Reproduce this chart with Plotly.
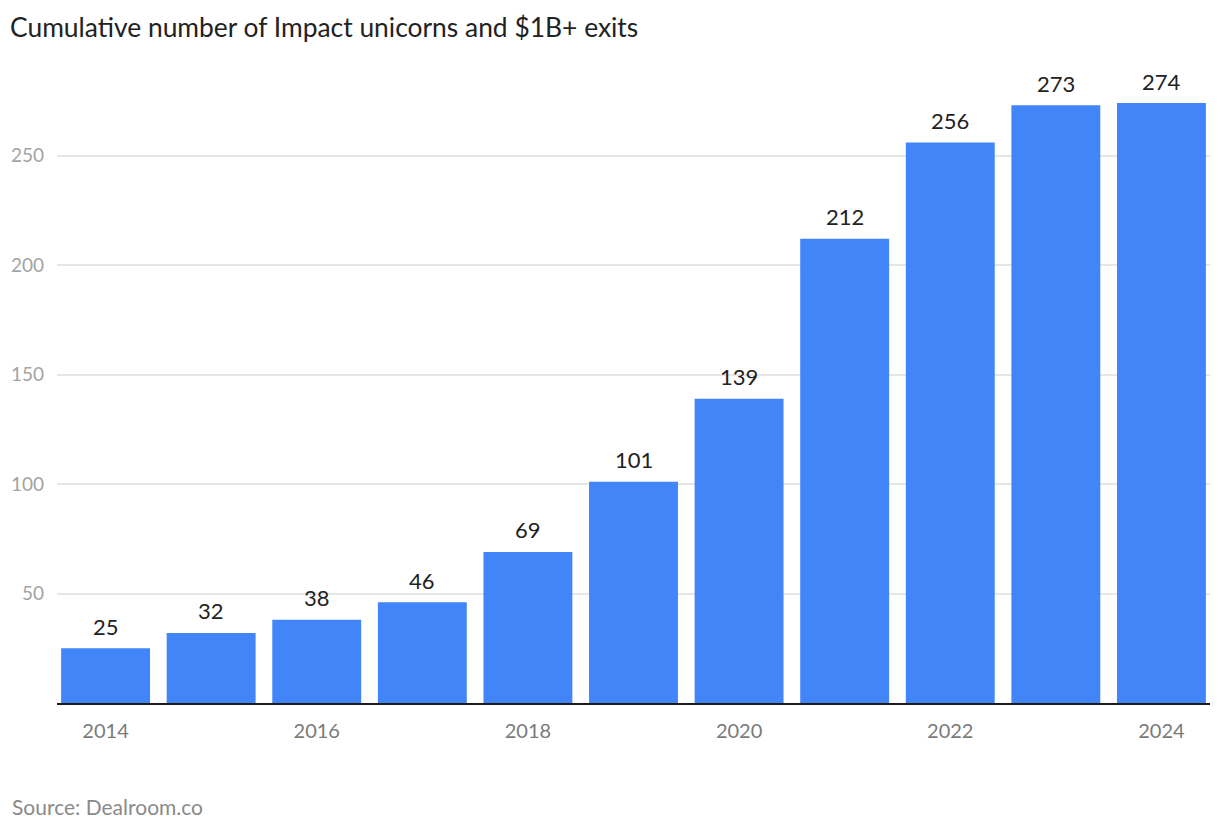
import plotly.graph_objects as go

years = [2014, 2015, 2016, 2017, 2018, 2019, 2020, 2021, 2022, 2023, 2024]
counts = [25, 32, 38, 46, 69, 101, 139, 212, 256, 273, 274]
x_ticks = [2014, 2016, 2018, 2020, 2022, 2024]
y_ticks = [50, 100, 150, 200, 250]

FONT = "Lato"
W, H = 1212, 822
L, R, T, B = 49, 10, 71, 127
PW, PH = W - L - R, H - T - B

fig = go.Figure(
    go.Bar(
        x=years,
        y=counts,
        marker=dict(color="#4285f8", line=dict(width=0)),
        hoverinfo="skip",
    )
)

for yr, c in zip(years, counts):
    fig.add_annotation(
        x=yr, y=c, xref="x", yref="y",
        text=str(c), showarrow=False,
        yanchor="middle", yshift=22,
        font=dict(family=FONT, size=22, color="#222222"),
    )

fig.update_layout(
    width=W,
    height=H,
    margin=dict(l=L, r=R, t=T, b=B, autoexpand=False),
    paper_bgcolor="white",
    plot_bgcolor="white",
    bargap=0.158,
    showlegend=False,
    title=dict(
        text="Cumulative number of Impact unicorns and $1B+ exits",
        x=2 / W,
        xref="container",
        xanchor="left",
        y=1 - 20 / H,
        yref="container",
        yanchor="middle",
        font=dict(family=FONT, size=26.4, color="#222222"),
    ),
    font=dict(family=FONT),
)

fig.update_xaxes(
    range=[2013.54, 2024.46],
    tickmode="array",
    tickvals=x_ticks,
    ticktext=[str(t) for t in x_ticks],
    tickfont=dict(family=FONT, size=20, color="#7a7a7a"),
    showgrid=False,
    showline=True,
    linecolor="#1a1a1a",
    linewidth=2,
    ticks="",
    ticklabelstandoff=9,
    automargin=False,
)

fig.update_yaxes(
    range=[0, 285],
    tickmode="array",
    tickvals=y_ticks,
    tickfont=dict(family=FONT, size=19, color="#a3a3a3"),
    showgrid=True,
    gridcolor="#e6e6e6",
    gridwidth=2,
    zeroline=False,
    showline=False,
    ticks="",
    ticklabelstandoff=12,
    automargin=False,
)

fig.add_annotation(
    text="Source: Dealroom.co",
    xref="paper",
    yref="paper",
    x=(2 - L) / PW,
    y=-(798 - (H - B)) / PH,
    xanchor="left",
    yanchor="middle",
    showarrow=False,
    font=dict(family=FONT, size=21, color="#8a8a8a"),
)

fig.write_html("out.html")
